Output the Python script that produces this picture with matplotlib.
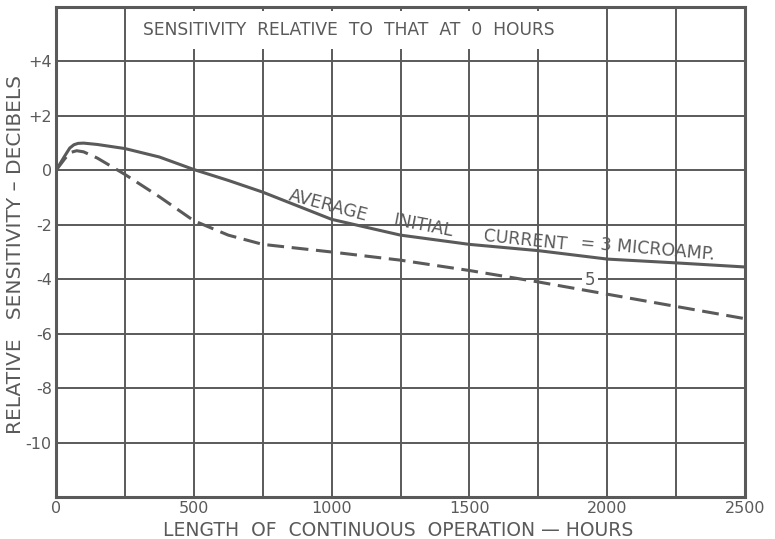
import numpy as np
import matplotlib
matplotlib.use("Agg")
import matplotlib.pyplot as plt

# sensitivity vs. hours of operation
hours_3 = [0, 15, 30, 50, 65, 80, 100, 150, 250, 375, 500, 625, 750, 875, 1000, 1250, 1500, 1750, 2000, 2250, 2500]
db_3 = [0, 0.25, 0.5, 0.82, 0.94, 0.99, 1.0, 0.95, 0.8, 0.49, 0.03, -0.37, -0.8, -1.3, -1.8, -2.38, -2.72, -2.95, -3.26, -3.4, -3.55]

hours_5 = [0, 15, 30, 50, 75, 100, 150, 250, 375, 500, 625, 750, 1000, 1250, 1500, 1750, 2000, 2250, 2500]
db_5 = [0, 0.2, 0.4, 0.65, 0.72, 0.68, 0.45, -0.15, -0.97, -1.85, -2.38, -2.72, -3.0, -3.3, -3.68, -4.1, -4.55, -5.0, -5.45]

x_ticks = [0, 500, 1000, 1500, 2000, 2500]
y_ticks = [4, 2, 0, -2, -4, -6, -8, -10]
y_tick_labels = ['+4', '+2', '0', '-2', '-4', '-6', '-8', '-10']

ink = '#5a5a5a'
plt.rcParams['font.family'] = 'DejaVu Sans'

fig = plt.figure(figsize=(7.75, 5.39), dpi=100)
ax = fig.add_axes([56/775, 1 - 497/539, 689/775, 490/539])

ax.set_xlim(0, 2500)
ax.set_ylim(-12, 6)

# grid every 250 h / 2 dB
for gx in np.arange(250, 2500, 250):
    ax.axvline(gx, color=ink, lw=1.4, zorder=1)
for gy in np.arange(-10, 6, 2):
    ax.axhline(gy, color=ink, lw=1.4, zorder=1)

for s in ax.spines.values():
    s.set_color(ink)
    s.set_linewidth(2.2)

ax.plot(hours_3, db_3, color=ink, lw=2.2, zorder=3, solid_capstyle='round')
l5, = ax.plot(hours_5, db_5, color=ink, lw=2.2, zorder=3)
l5.set_dashes((5.5, 2.5))

ax.set_xticks(x_ticks)
ax.set_xticklabels([str(v) for v in x_ticks])
ax.set_yticks(y_ticks)
ax.set_yticklabels(y_tick_labels)
ax.tick_params(length=0, colors=ink, labelsize=11.5)
ax.tick_params(axis='x', pad=3)
ax.tick_params(axis='y', pad=3)

ax.set_xlabel('LENGTH  OF  CONTINUOUS  OPERATION — HOURS', color=ink, fontsize=13.5, va='center')
ax.xaxis.set_label_coords(0.497, -0.069)
ax.set_ylabel('RELATIVE   SENSITIVITY – DECIBELS', color=ink, fontsize=14.5, va='center')
ax.yaxis.set_label_coords(-0.0595, 0.494)

ax.text(1061, 5.15, 'SENSITIVITY  RELATIVE  TO  THAT  AT  0  HOURS', color=ink, fontsize=12.3,
        ha='center', va='center', zorder=4,
        bbox=dict(facecolor='white', edgecolor='none', pad=7))

# curve label, word by word along the solid curve
words = [('AVERAGE', 987, -1.31, -15),
         ('INITIAL', 1331, -2.05, -11),
         ('CURRENT', 1702, -2.56, -6),
         ('= 3 MICROAMP.', 2148, -2.89, -5)]
for txt, hx, hy, rot in words:
    ax.text(hx, hy, txt, color=ink, fontsize=12.5, ha='center', va='center',
            rotation=rot, rotation_mode='anchor', zorder=4)

# "5" sits on the -4 grid line, under the dashed curve
ax.text(1937, -4.03, '5', color=ink, fontsize=12, ha='center', va='center', zorder=2,
        bbox=dict(facecolor='white', edgecolor='none', pad=2))

fig.savefig('out.png', dpi=100, facecolor='white')
